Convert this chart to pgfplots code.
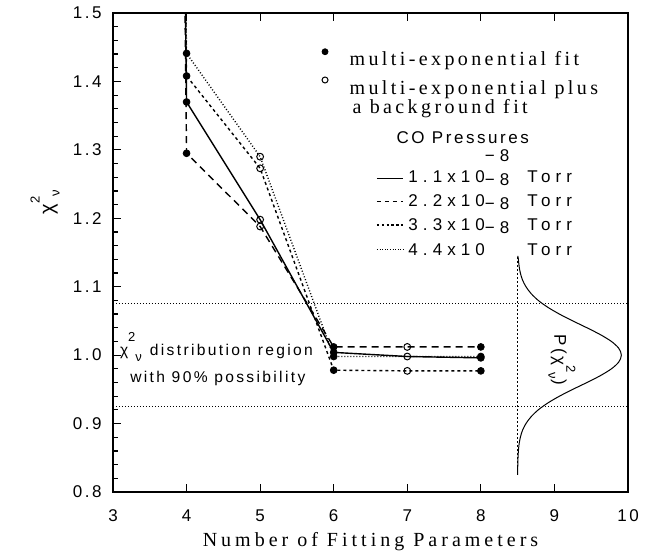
\documentclass[border=0pt]{standalone}
\usepackage{fontspec}
\setmainfont{Liberation Serif}
\newfontfamily\plotsans[LetterSpace=15]{Liberation Sans}
\newfontfamily\legsans[LetterSpace=30]{Liberation Sans}
\newfontfamily\plotserif[LetterSpace=17]{Liberation Serif}
\newfontfamily\labserif[LetterSpace=20]{Liberation Serif}
\usepackage{pgfplots}
\pgfplotsset{compat=1.18}

\newcommand\sfs{\fontsize{8.5}{10}\plotsans}
\newcommand\sml[1]{{\fontsize{6.5}{7}\plotsans #1}}
\newcommand\prow[1]{#1x10\raisebox{10.8pt}{−8}\hspace{9pt}Torr}
\tikzset{lbl/.style={inner sep=0pt, anchor=base west}}

\begin{document}
\begin{tikzpicture}
\begin{axis}[
    scale only axis,
    width=257.5pt, height=239.5pt,
    xmin=3, xmax=10, ymin=0.8, ymax=1.5,
    xtick={3,4,...,10},
    ytick={0.8,0.9,1.0,1.1,1.2,1.3,1.4,1.5},
    minor y tick num=4,
    tick align=inside, xtick pos=both, ytick pos=left,
    major tick length=4pt, minor tick length=2.5pt,
    axis line style={line width=0.8pt},
    every tick/.style={black, line width=0.6pt},
    /pgf/number format/assume math mode=true,
    ticklabel style={font=\sfs},
    yticklabel={\pgfmathprintnumber[fixed,fixed zerofill,precision=1]{\tick}},
    yticklabel style={anchor=east, inner sep=0pt, xshift=-5.5pt},
    xticklabel style={anchor=center, inner sep=0pt, yshift=-12pt},
    xlabel={Number of Fitting Parameters},
    xlabel style={at={(axis description cs:0.5,0)}, anchor=center, yshift=-25pt,
                  font=\fontsize{10}{12}\labserif},
    ylabel={χ\raisebox{7pt}{\sml{2}}\raisebox{-3pt}{\sml{ν}}},
    ylabel style={at={(axis description cs:-0.132,0.605)}, anchor=center,
                  font=\fontsize{10}{12}\plotsans},
]
% 90% region and the P(chi^2) curve
\addplot[black, line width=0.5pt, dash pattern=on 0.5pt off 1pt] coordinates {(3,1.075) (10,1.075)};
\addplot[black, line width=0.5pt, dash pattern=on 0.5pt off 1pt] coordinates {(3,0.925) (10,0.925)};
\addplot[black, line width=0.5pt, dash pattern=on 1pt off 1pt] coordinates {(8.5,0.825) (8.5,1.145)};
\addplot[black, line width=0.5pt, smooth] coordinates {
  (8.503,1.145) (8.510,1.14) (8.520,1.13) (8.537,1.12) (8.566,1.11) (8.613,1.10)
  (8.683,1.09) (8.780,1.08) (8.909,1.07) (9.068,1.06) (9.250,1.05) (9.442,1.04)
  (9.624,1.03) (9.775,1.02) (9.875,1.01) (9.910,1.00) (9.875,0.99) (9.775,0.98)
  (9.624,0.97) (9.442,0.96) (9.250,0.95) (9.068,0.94) (8.909,0.93) (8.780,0.92)
  (8.683,0.91) (8.613,0.90) (8.566,0.89) (8.537,0.88) (8.520,0.87) (8.510,0.86)
  (8.505,0.85) (8.502,0.84) (8.500,0.825)};

% 1.1e-8 Torr
\addplot[black, line width=0.7pt] coordinates {(3,10) (4,1.370) (5,1.198) (6,1.004) (7,0.998) (8,0.996)};
% 2.2e-8 Torr
\addplot[black, line width=0.7pt, dash pattern=on 3.5pt off 2.5pt] coordinates {(3,11) (4,1.295) (5,1.188) (6,1.012) (7,1.012) (8,1.012)};
% 3.3e-8 Torr
\addplot[black, line width=0.7pt, dash pattern=on 1.5pt off 1.5pt] coordinates {(3,9) (4,1.408) (5,1.273) (6,0.978) (7,0.977) (8,0.977)};
% 4.4e-8 Torr
\addplot[black, line width=0.7pt, dash pattern=on 0.5pt off 1pt] coordinates {(3,8) (4,1.441) (5,1.290) (6,0.998) (7,0.998) (8,0.998)};

% multi-exponential fit (filled)
\addplot[only marks, mark=*, mark size=1.7pt, black] coordinates {
  (4,1.370) (4,1.295) (4,1.408) (4,1.441)
  (6,1.004) (6,1.012) (6,0.978) (6,0.998)
  (8,0.996) (8,1.012) (8,0.977) (8,0.998)};
% plus background fit (open)
\addplot[only marks, mark=o, mark size=1.7pt, black, line width=0.5pt] coordinates {
  (5,1.198) (5,1.188) (5,1.273) (5,1.290)
  (7,0.998) (7,1.012) (7,0.977)};

% legend
\addplot[only marks, mark=*, mark size=1.5pt, black] coordinates {(5.882,1.4434)};
\addplot[only marks, mark=o, mark size=1.5pt, black, line width=0.5pt] coordinates {(5.882,1.4021)};
\addplot[black, line width=0.7pt] coordinates {(6.588,1.2584) (6.942,1.2584)};
\addplot[black, line width=0.7pt, dash pattern=on 2pt off 2pt] coordinates {(6.588,1.2243) (6.942,1.2243)};
\addplot[black, line width=0.7pt, dash pattern=on 1.2pt off 1.2pt] coordinates {(6.588,1.1902) (6.942,1.1902)};
\addplot[black, line width=0.7pt, dash pattern=on 0.5pt off 0.8pt] coordinates {(6.588,1.1547) (6.942,1.1547)};

\node[lbl, font=\fontsize{10}{12}\plotserif] at (axis cs:6.21,1.424) {multi-exponential fit};
\node[lbl, font=\fontsize{10}{12}\plotserif] at (axis cs:6.21,1.3812) {multi-exponential plus};
\node[lbl, font=\fontsize{10}{12}\plotserif] at (axis cs:6.25,1.3534) {a background fit};
\node[lbl, font=\sfs] at (axis cs:6.85,1.3096) {CO Pressures};
\node[lbl, font=\fontsize{8.5}{10}\legsans] at (axis cs:7.01,1.252) {\prow{1.1}};
\node[lbl, font=\fontsize{8.5}{10}\legsans] at (axis cs:7.01,1.217) {\prow{2.2}};
\node[lbl, font=\fontsize{8.5}{10}\legsans] at (axis cs:7.01,1.1819) {\prow{3.3}};
\node[lbl, font=\fontsize{8.5}{10}\legsans] at (axis cs:7.01,1.1463) {\prow{4.4}};

% region text
\node[lbl, font=\fontsize{7.8}{9}\plotsans] at (axis cs:3.09,1.0) {χ\raisebox{7pt}{\sml{2}}\raisebox{-3pt}{\sml{ν}}\hspace{4pt}distribution region};
\node[lbl, font=\fontsize{7.8}{9}\plotsans] at (axis cs:3.23,0.960) {with 90\% possibility};
\node[inner sep=0pt, anchor=base, rotate=-90, font=\sfs] at (axis cs:9.0,0.993) {P(χ\raisebox{6pt}{\sml{2}}\raisebox{-3pt}{\sml{ν}})};
\end{axis}
\pgfresetboundingbox
\path[use as bounding box] (-56.5pt,-34pt) rectangle (275pt,246pt);
\end{tikzpicture}
\end{document}
